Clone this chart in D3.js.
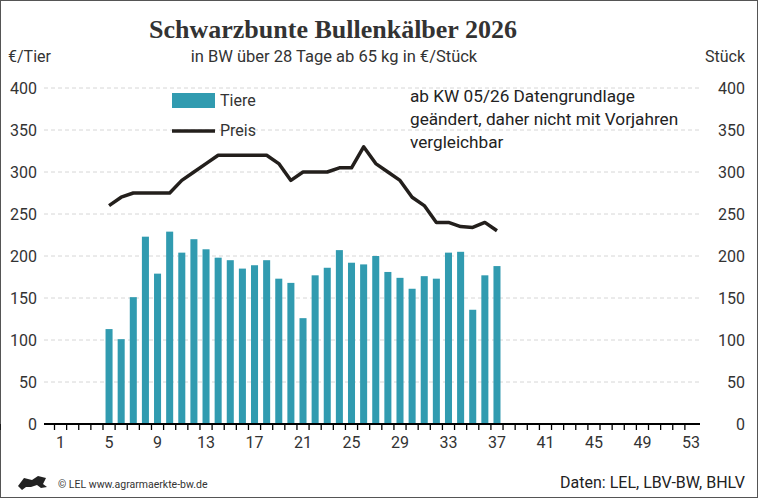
<!DOCTYPE html><html><head><meta charset="utf-8"><script src="https://cdn.jsdelivr.net/npm/d3@7"></script>
<style>body{margin:0}svg{display:block;font-family:Roboto,sans-serif}</style></head><body><svg width="758" height="498"></svg>
<script>
const weeks=d3.range(1,54);
const dataWeeks=d3.range(5,38);
const tiere=[113,101,151,223,179,229,204,220,208,198,195,185,189,195,173,168,126,177,186,207,192,190,200,181,174,161,176,173,204,205,136,177,188];
const preis=[260,270,275,275,275,275,290,300,310,320,320,320,320,320,310,290,300,300,300,305,305,330,310,300,290,270,260,240,240,235,234,240,230];
const yTicks=[0,50,100,150,200,250,300,350,400];
const xTickLabels=[1,5,9,13,17,21,25,29,33,37,41,45,49,53];
const svg=d3.select("svg");
svg.append("rect").attr("x",0.5).attr("y",0.5).attr("width",757).attr("height",497).attr("fill","#fff").attr("stroke","#555");
const x=d3.scaleBand().domain(weeks).range([54.5,697]).paddingInner(0.42).paddingOuter(0.21);
const xc=w=>x(w)+x.bandwidth()/2;
const y=d3.scaleLinear().domain([0,400]).range([424,88]);
const g=svg.append("g");
yTicks.slice(1).forEach(t=>g.append("line").attr("x1",44).attr("x2",700).attr("y1",y(t)).attr("y2",y(t)).attr("stroke","#ccc").attr("stroke-dasharray","4,3").attr("stroke-width",0.8));
g.selectAll(".b").data(dataWeeks).join("rect").attr("x",w=>x(w)).attr("width",x.bandwidth()).attr("y",(w,i)=>y(tiere[i])).attr("height",(w,i)=>424-y(tiere[i])).attr("fill","#319bb0");
g.append("path").datum(dataWeeks).attr("fill","none").attr("stroke","#231f1c").attr("stroke-width",3.5).attr("stroke-linejoin","round")
 .attr("d",d3.line().x(w=>xc(w)).y((w,i)=>y(preis[i])));
g.append("line").attr("x1",44).attr("x2",700).attr("y1",424).attr("y2",424).attr("stroke","#000").attr("stroke-width",2);
const step=x.step();
weeks.concat([54]).forEach(w=>{const xx=xc(w)-step/2;g.append("line").attr("x1",xx).attr("x2",xx).attr("y1",424).attr("y2",430).attr("stroke","#000").attr("stroke-width",1.3);});
xTickLabels.forEach(t=>g.append("text").attr("x",xc(t)).attr("y",448).attr("text-anchor","middle").attr("font-size",16).attr("fill","#333").text(t));
yTicks.forEach(t=>{
 g.append("text").attr("x",37).attr("y",y(t)+6).attr("text-anchor","end").attr("font-size",16).attr("fill","#333").text(t);
 g.append("text").attr("x",745).attr("y",y(t)+6).attr("text-anchor","end").attr("font-size",16).attr("fill","#333").text(t);
});
svg.append("text").attr("x",333).attr("y",38).attr("text-anchor","middle").attr("font-family","'Liberation Serif',serif").attr("font-weight","bold").attr("font-size",26).attr("fill","#333").text("Schwarzbunte Bullenkälber 2026");
svg.append("text").attr("x",334).attr("y",62).attr("text-anchor","middle").attr("font-size",16.5).attr("fill","#333").text("in BW über 28 Tage ab 65 kg in €/Stück");
svg.append("text").attr("x",8).attr("y",62).attr("font-size",16).attr("fill","#333").text("€/Tier");
svg.append("text").attr("x",745).attr("y",62).attr("text-anchor","end").attr("font-size",16).attr("fill","#333").text("Stück");
svg.append("rect").attr("x",172).attr("y",93).attr("width",43).attr("height",15).attr("fill","#319bb0");
svg.append("text").attr("x",220).attr("y",106).attr("font-size",16).attr("fill","#333").text("Tiere");
svg.append("line").attr("x1",172).attr("x2",215).attr("y1",131).attr("y2",131).attr("stroke","#231f1c").attr("stroke-width",3.5);
svg.append("text").attr("x",220).attr("y",136).attr("font-size",16).attr("fill","#333").text("Preis");
["ab KW 05/26 Datengrundlage","geändert, daher nicht mit Vorjahren","vergleichbar"].forEach((s,i)=>svg.append("text").attr("x",410).attr("y",102+i*23).attr("font-size",17.2).attr("fill","#222").text(s));
svg.append("text").attr("x",58).attr("y",488).attr("font-size",10.5).attr("fill","#333").text("© LEL www.agrarmaerkte-bw.de");
svg.append("text").attr("x",745).attr("y",488).attr("text-anchor","end").attr("font-size",16).attr("fill","#222").text("Daten: LEL, LBV-BW, BHLV");
svg.append("path").attr("d","M18,486 l6,-8 l8,2 l6,-4 l8,2 l-3,6 l4,3 l-6,1 l-4,-3 l-6,2 l-5,0 l-4,3 z").attr("fill","#222");
</script></body></html>
